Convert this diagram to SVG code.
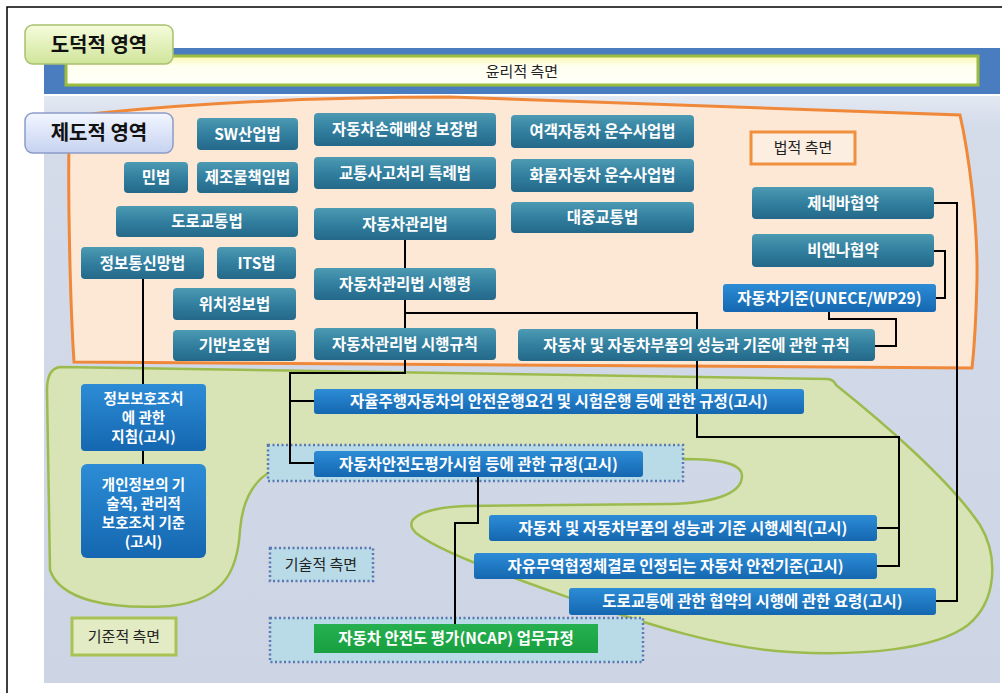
<svg xmlns="http://www.w3.org/2000/svg" width="1002" height="693" viewBox="0 0 1002 693">
<defs>
<linearGradient id="teal" x1="0" y1="0" x2="0" y2="1">
<stop offset="0" stop-color="#4d9ab3"/><stop offset="0.5" stop-color="#327f9f"/><stop offset="1" stop-color="#246889"/>
</linearGradient>
<linearGradient id="blue" x1="0" y1="0" x2="0" y2="1">
<stop offset="0" stop-color="#2d8cd6"/><stop offset="1" stop-color="#1467b0"/>
</linearGradient>
<linearGradient id="green" x1="0" y1="0" x2="0" y2="1">
<stop offset="0" stop-color="#26b050"/><stop offset="1" stop-color="#18a040"/>
</linearGradient>
<linearGradient id="lgreen" x1="0" y1="0" x2="0" y2="1">
<stop offset="0" stop-color="#f6fcdc"/><stop offset="1" stop-color="#cfe59a"/>
</linearGradient>
<linearGradient id="lblue" x1="0" y1="0" x2="0" y2="1">
<stop offset="0" stop-color="#f2f6ff"/><stop offset="1" stop-color="#c5d2f0"/>
</linearGradient>
<linearGradient id="yel" x1="0" y1="0" x2="0" y2="1">
<stop offset="0" stop-color="#fbf8b0"/><stop offset="0.35" stop-color="#fffff0"/><stop offset="1" stop-color="#fffff8"/>
</linearGradient>
<linearGradient id="bg" x1="0" y1="0" x2="0" y2="1">
<stop offset="0" stop-color="#e3e9f2"/><stop offset="0.05" stop-color="#d4dcea"/><stop offset="1" stop-color="#cdd5e5"/>
</linearGradient>
</defs>
<style>
.t{font-family:'Noto Sans CJK KR','Noto Sans',sans-serif;font-weight:bold;font-size:15.5px;fill:#ffffff;text-anchor:middle}
.m{font-family:'Noto Sans CJK KR','Noto Sans',sans-serif;font-weight:bold;font-size:14.5px;fill:#ffffff;text-anchor:middle}
.n{font-family:'Noto Sans CJK KR','Noto Sans',sans-serif;font-size:15px;fill:#222222;text-anchor:middle}
.h{font-family:'Noto Sans CJK KR','Noto Sans',sans-serif;font-weight:bold;font-size:20px;fill:#111111;text-anchor:middle}
.tb{fill:url(#teal)}
.bb{fill:url(#blue)}
.dot{fill:#b9dbe8;stroke:#5b78b0;stroke-width:2.5;stroke-dasharray:2 2.5}
.c{fill:none;stroke:#000000;stroke-width:2}
</style>
<rect width="1002" height="693" fill="#ffffff"/>
<path d="M7,693 V7 H1002" fill="none" stroke="#000000" stroke-width="1.5"/>
<g id="background">
<rect x="44" y="96" width="956" height="587" fill="url(#bg)"/>
<rect x="44" y="48" width="956" height="46" fill="#4a7dbf"/>
<rect x="66" y="56" width="912" height="29" fill="url(#yel)" stroke="#9cbc40" stroke-width="3"/>
<text class="n" x="522" y="77">윤리적 측면</text>
<path d="M69,140 C69,122 80,115 100,113 C200,103 330,97 450,97 L960,115 C968,150 978,220 977,280 C976,320 974,350 972,368 L74,362 C70,300 68,200 69,140 Z" fill="#fde8d6" stroke="#f0883a" stroke-width="3"/>
<path d="M60,367 L828,379 Q834,380 836,385 C880,420 950,480 980,525 C998,555 998,600 968,625 C935,650 860,656 790,652 C720,648 650,625 570,598 C500,573 440,552 416,533 C402,520 420,508 465,506 L670,504 C710,503 742,495 742,476 C742,462 715,459 683,459 L268,473 C250,485 242,505 240,530 C238,565 228,600 170,606 C110,610 60,600 50,570 L47,390 C47,375 52,368 60,367 Z" fill="#d9e4b6" stroke="#9cbb4e" stroke-width="2.5"/>
</g>
<g id="container-safety-eval"><rect class="dot" x="268" y="445" width="415" height="36"/></g>
<g id="container-ncap"><rect class="dot" x="270" y="618" width="373" height="44"/></g>
<g id="connectors">
<path class="c" d="M143,279 V384"/>
<path class="c" d="M143,451 V464"/>
<path class="c" d="M405,240 V268"/>
<path class="c" d="M405,300 V328 M405,313 H697 V329"/>
<path class="c" d="M405,360 V373 H290 V463 H314 M290,401 H314"/>
<path class="c" d="M697,361 V437 H899 V566 H877 M899,528 H877"/>
<path class="c" d="M478,477 V523 H455 V624"/>
<path class="c" d="M934,203 H957 V601 H936"/>
<path class="c" d="M934,251 H945 V298 H936"/>
<path class="c" d="M829,312 V319 H896 V346 H875"/>
</g>
<g id="label-moral"><rect x="25" y="25" width="148" height="39" rx="8" fill="url(#lgreen)" stroke="#a9c070" stroke-width="1.5"/><text class="h" x="99" y="52">도덕적 영역</text></g>
<g id="label-institutional"><rect x="25" y="113" width="148" height="40" rx="8" fill="url(#lblue)" stroke="#8a9cc8" stroke-width="1.5"/><text class="h" x="99" y="140">제도적 영역</text></g>
<g id="label-legal"><rect x="751" y="132" width="104" height="32" fill="#fdeee2" stroke="#f0903e" stroke-width="3"/><text class="n" x="803" y="153">법적 측면</text></g>
<g id="label-technical"><rect class="dot" x="270" y="548" width="103" height="33"/><text class="n" x="321" y="570">기술적 측면</text></g>
<g id="label-standard"><rect x="72" y="618" width="104" height="37" fill="#e2ebc4" stroke="#a9c254" stroke-width="3"/><text class="n" x="124" y="642">기준적 측면</text></g>
<g id="n-sw"><rect class="tb" x="197" y="118" width="101" height="32" rx="4"/><text class="t" x="247.5" y="139.5">SW산업법</text></g>
<g id="n-civil"><rect class="tb" x="124" y="162" width="64" height="31" rx="4"/><text class="t" x="156" y="183">민법</text></g>
<g id="n-product"><rect class="tb" x="197" y="162" width="101" height="31" rx="4"/><text class="t" x="247.5" y="183">제조물책임법</text></g>
<g id="n-roadtraffic"><rect class="tb" x="116" y="206" width="182" height="31" rx="4"/><text class="t" x="207" y="227">도로교통법</text></g>
<g id="n-ictnet"><rect class="tb" x="81" y="247" width="123" height="32" rx="4"/><text class="t" x="142.5" y="268.5">정보통신망법</text></g>
<g id="n-its"><rect class="tb" x="217" y="247" width="79" height="32" rx="4"/><text class="t" x="256.5" y="268.5">ITS법</text></g>
<g id="n-location"><rect class="tb" x="173" y="288" width="123" height="32" rx="4"/><text class="t" x="234.5" y="309.5">위치정보법</text></g>
<g id="n-infra"><rect class="tb" x="173" y="330" width="123" height="31" rx="4"/><text class="t" x="234.5" y="351">기반보호법</text></g>
<g id="n-compensation"><rect class="tb" x="314" y="113" width="182" height="33" rx="4"/><text class="t" x="405" y="135">자동차손해배상 보장법</text></g>
<g id="n-accident"><rect class="tb" x="314" y="157" width="182" height="32" rx="4"/><text class="t" x="405" y="178.5">교통사고처리 특례법</text></g>
<g id="n-carmgmt"><rect class="tb" x="314" y="208" width="182" height="32" rx="4"/><text class="t" x="405" y="229.5">자동차관리법</text></g>
<g id="n-carmgmt-decree"><rect class="tb" x="314" y="268" width="182" height="32" rx="4"/><text class="t" x="405" y="289.5">자동차관리법 시행령</text></g>
<g id="n-carmgmt-rule"><rect class="tb" x="314" y="328" width="182" height="32" rx="4"/><text class="t" x="405" y="349.5">자동차관리법 시행규칙</text></g>
<g id="n-passenger"><rect class="tb" x="511" y="115" width="183" height="33" rx="4"/><text class="t" x="602.5" y="137">여객자동차 운수사업법</text></g>
<g id="n-freight"><rect class="tb" x="511" y="159" width="183" height="33" rx="4"/><text class="t" x="602.5" y="181">화물자동차 운수사업법</text></g>
<g id="n-transit"><rect class="tb" x="511" y="202" width="183" height="31" rx="4"/><text class="t" x="602.5" y="223">대중교통법</text></g>
<g id="n-performance-rule"><rect class="tb" x="518" y="329" width="357" height="32" rx="4"/><text class="t" x="696.5" y="350.5">자동차 및 자동차부품의 성능과 기준에 관한 규칙</text></g>
<g id="n-geneva"><rect class="tb" x="752" y="187" width="182" height="32" rx="4"/><text class="t" x="843" y="208.5">제네바협약</text></g>
<g id="n-vienna"><rect class="tb" x="752" y="234" width="182" height="33" rx="4"/><text class="t" x="843" y="256">비엔나협약</text></g>
<g id="n-unece"><rect class="bb" x="723" y="284" width="213" height="28" rx="3"/><text class="t" x="829.5" y="303.5">자동차기준(UNECE/WP29)</text></g>
<g id="n-infoprotect"><rect class="bb" x="81" y="384" width="125" height="67" rx="4"/><text class="m" x="143.5" y="404">정보보호조치</text><text class="m" x="143.5" y="423">에 관한</text><text class="m" x="143.5" y="442">지침(고시)</text></g>
<g id="n-privacy"><rect class="bb" x="81" y="464" width="125" height="94" rx="6"/><text class="m" x="143.5" y="490">개인정보의 기</text><text class="m" x="143.5" y="509">술적, 관리적</text><text class="m" x="143.5" y="528">보호조치 기준</text><text class="m" x="143.5" y="547">(고시)</text></g>
<g id="n-autonomous"><rect class="bb" x="314" y="389" width="490" height="25" rx="3"/><text class="t" x="559" y="407">자율주행자동차의 안전운행요건 및 시험운행 등에 관한 규정(고시)</text></g>
<g id="n-safety-eval"><rect class="bb" x="314" y="451" width="329" height="26" rx="3"/><text class="t" x="478.5" y="469.5">자동차안전도평가시험 등에 관한 규정(고시)</text></g>
<g id="n-enforcement"><rect class="bb" x="489" y="515" width="388" height="26" rx="3"/><text class="t" x="683" y="533.5">자동차 및 자동차부품의 성능과 기준 시행세칙(고시)</text></g>
<g id="n-fta"><rect class="bb" x="474" y="553" width="403" height="26" rx="3"/><text class="t" x="675.5" y="571.5">자유무역협정체결로 인정되는 자동차 안전기준(고시)</text></g>
<g id="n-road-convention"><rect class="bb" x="569" y="588" width="367" height="27" rx="3"/><text class="t" x="752.5" y="607">도로교통에 관한 협약의 시행에 관한 요령(고시)</text></g>
<g id="n-ncap"><rect fill="url(#green)" x="314" y="624" width="284" height="29"/><text class="t" x="456" y="644">자동차 안전도 평가(NCAP) 업무규정</text></g>
</svg>
